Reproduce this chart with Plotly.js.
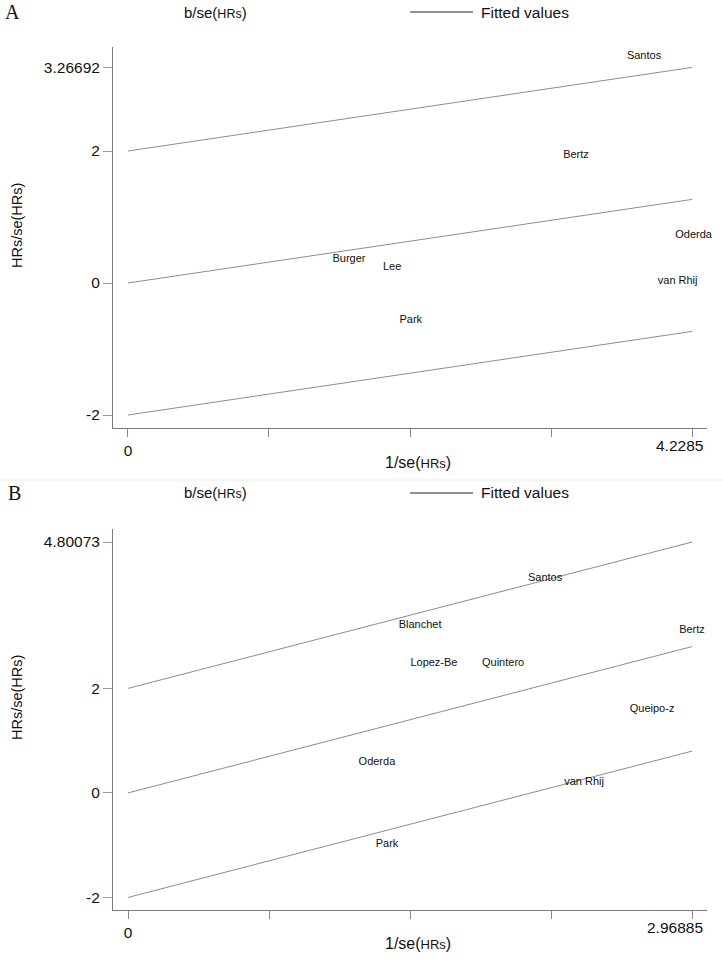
<!DOCTYPE html>
<html>
<head>
<meta charset="utf-8">
<script src="https://cdn.plot.ly/plotly-3.0.1.min.js"></script>
<style>html,body{margin:0;padding:0;background:#fff;}#chart{width:723px;height:965px;}</style>
</head>
<body>
<div id="chart"></div>
<script>
// ---- Panel A data ----
const studiesA = ['Santos', 'Bertz', 'Oderda', 'van Rhij', 'Burger', 'Lee', 'Park'];
const precisionA = [3.868, 3.358, 4.24, 4.12, 1.657, 1.98, 2.12];   // 1/se(HRs)
const zScoreA = [3.44, 1.94, 0.73, 0.03, 0.36, 0.24, -0.56];        // HRs/se(HRs)
const fitXA = [0, 4.2285];
const fitUpperA = [2, 3.26692];
const fitMidA = [0, 1.26692];
const fitLowerA = [-2, -0.73308];
const xTicksA = [0, 1.0571, 2.1143, 3.1714, 4.2285];
const yTicksA = [-2, 0, 2, 3.26692];
const yTickTextA = ['-2', '0', '2', '3.26692'];

// ---- Panel B data ----
const studiesB = ['Santos', 'Blanchet', 'Bertz', 'Lopez-Be', 'Quintero', 'Queipo-z', 'Oderda', 'van Rhij', 'Park'];
const precisionB = [2.195, 1.537, 2.968, 1.61, 1.974, 2.758, 1.31, 2.40, 1.363];
const zScoreB = [4.10, 3.21, 3.12, 2.49, 2.49, 1.61, 0.59, 0.21, -0.976];
const fitXB = [0, 2.96885];
const fitUpperB = [2, 4.80073];
const fitMidB = [0, 2.80073];
const fitLowerB = [-2, 0.80073];
const xTicksB = [0, 0.74221, 1.48443, 2.22664, 2.96885];
const yTicksB = [-2, 0, 2, 4.80073];
const yTickTextB = ['-2', '0', '2', '4.80073'];

const FONT = 'Liberation Sans, Arial, sans-serif';
const W = 723, H = 965;
const px = v => v / W;
const py = v => 1 - v / H;

const lineStyle = {color: '#5a5a5a', width: 0.7};
function fitTrace(x, y, xa, ya) {
  return {x: x, y: y, mode: 'lines', line: lineStyle, xaxis: xa, yaxis: ya, hoverinfo: 'skip', showlegend: false, cliponaxis: false};
}
function labelTrace(x, y, t, xa, ya) {
  return {x: x, y: y, text: t, mode: 'text', textposition: 'middle center', cliponaxis: false,
    textfont: {family: FONT, size: 11, color: '#111'}, xaxis: xa, yaxis: ya, showlegend: false, hoverinfo: 'text'};
}

const data = [
  fitTrace(fitXA, fitUpperA, 'x', 'y'),
  fitTrace(fitXA, fitMidA, 'x', 'y'),
  fitTrace(fitXA, fitLowerA, 'x', 'y'),
  labelTrace(precisionA, zScoreA, studiesA, 'x', 'y'),
  fitTrace(fitXB, fitUpperB, 'x2', 'y2'),
  fitTrace(fitXB, fitMidB, 'x2', 'y2'),
  fitTrace(fitXB, fitLowerB, 'x2', 'y2'),
  labelTrace(precisionB, zScoreB, studiesB, 'x2', 'y2')
];

function xAxis(domain, range, ticks, anchor) {
  return {domain: domain, range: range, tickvals: ticks, ticktext: ['0', '', '', '', ''],
    ticks: 'outside', ticklen: 8, tickcolor: '#8a8a8a', tickwidth: 1,
    showline: true, linecolor: '#7a7a7a', linewidth: 1, showgrid: false, zeroline: false,
    tickfont: {family: FONT, size: 15.5, color: '#111'}, anchor: anchor, fixedrange: true};
}
function yAxis(domain, range, ticks, text, anchor) {
  return {domain: domain, range: range, tickvals: ticks, ticktext: text,
    ticks: 'outside', ticklen: 9, tickcolor: '#9a9a9a', tickwidth: 1,
    showline: true, linecolor: '#7a7a7a', linewidth: 1, showgrid: false, zeroline: false,
    tickfont: {family: FONT, size: 15.5, color: '#111'}, anchor: anchor, fixedrange: true};
}

const xDom = [px(113), px(707)];
const layout = {
  width: W, height: H, autosize: false,
  margin: {l: 0, r: 0, t: 0, b: 0},
  paper_bgcolor: '#fff', plot_bgcolor: '#fff',
  showlegend: false,
  xaxis: xAxis(xDom, [-0.112, 4.34], xTicksA, 'y'),
  yaxis: yAxis([py(428), py(47)], [-2.197, 3.576], yTicksA, yTickTextA, 'x'),
  xaxis2: xAxis(xDom, [-0.079, 3.047], xTicksB, 'y2'),
  yaxis2: yAxis([py(910), py(529)], [-2.24, 5.05], yTicksB, yTickTextB, 'x2'),
  shapes: [
    {type: 'line', xref: 'paper', yref: 'paper', x0: px(410), x1: px(473), y0: py(12), y1: py(12), line: {color: '#222', width: 1}},
    {type: 'line', xref: 'paper', yref: 'paper', x0: px(410), x1: px(473), y0: py(493), y1: py(493), line: {color: '#222', width: 1}},
    {type: 'line', xref: 'paper', yref: 'paper', x0: 0, x1: 1, y0: py(480), y1: py(480), line: {color: '#ececec', width: 1}}
  ],
  annotations: [
    // panel letters
    {text: 'A', xref: 'paper', yref: 'paper', x: px(3), y: py(12), xanchor: 'left', yanchor: 'middle', showarrow: false,
     font: {family: 'Liberation Serif, Times New Roman, serif', size: 20, color: '#111'}},
    {text: 'B', xref: 'paper', yref: 'paper', x: px(6), y: py(493), xanchor: 'left', yanchor: 'middle', showarrow: false,
     font: {family: 'Liberation Serif, Times New Roman, serif', size: 20, color: '#111'}},
    // legends
    {text: 'b/se(<span style="font-size:12.5px">HRs</span>)', xref: 'paper', yref: 'paper', x: px(215), y: py(12), xanchor: 'center', yanchor: 'middle', showarrow: false,
     font: {family: FONT, size: 15, color: '#111'}},
    {text: 'Fitted values', xref: 'paper', yref: 'paper', x: px(479), y: py(12), xanchor: 'left', yanchor: 'middle', showarrow: false,
     font: {family: FONT, size: 15.5, color: '#111'}},
    {text: 'b/se(<span style="font-size:12.5px">HRs</span>)', xref: 'paper', yref: 'paper', x: px(215), y: py(493), xanchor: 'center', yanchor: 'middle', showarrow: false,
     font: {family: FONT, size: 15, color: '#111'}},
    {text: 'Fitted values', xref: 'paper', yref: 'paper', x: px(479), y: py(493), xanchor: 'left', yanchor: 'middle', showarrow: false,
     font: {family: FONT, size: 15.5, color: '#111'}},
    // x titles
    {text: '1/se(<span style="font-size:13px">HRs</span>)', xref: 'paper', yref: 'paper', x: px(418), y: py(462), xanchor: 'center', yanchor: 'middle', showarrow: false,
     font: {family: FONT, size: 16, color: '#111'}},
    {text: '1/se(<span style="font-size:13px">HRs</span>)', xref: 'paper', yref: 'paper', x: px(418), y: py(943), xanchor: 'center', yanchor: 'middle', showarrow: false,
     font: {family: FONT, size: 16, color: '#111'}},
    // y titles
    {text: 'HRs/se(HRs)', xref: 'paper', yref: 'paper', x: px(17), y: py(226), xanchor: 'center', yanchor: 'middle', textangle: -90, showarrow: false,
     font: {family: FONT, size: 14.5, color: '#111'}},
    {text: 'HRs/se(HRs)', xref: 'paper', yref: 'paper', x: px(17), y: py(698), xanchor: 'center', yanchor: 'middle', textangle: -90, showarrow: false,
     font: {family: FONT, size: 14.5, color: '#111'}},
    // right-end x tick labels
    {text: String(xTicksA[4]), xref: 'x', yref: 'paper', x: xTicksA[4], y: py(445), xanchor: 'right', yanchor: 'middle', xshift: 13, showarrow: false,
     font: {family: FONT, size: 15.5, color: '#111'}},
    {text: String(xTicksB[4]), xref: 'x2', yref: 'paper', x: xTicksB[4], y: py(927), xanchor: 'right', yanchor: 'middle', xshift: 13, showarrow: false,
     font: {family: FONT, size: 15.5, color: '#111'}}
  ]
};

Plotly.newPlot('chart', data, layout, {displayModeBar: false, staticPlot: true});
</script>
</body>
</html>
